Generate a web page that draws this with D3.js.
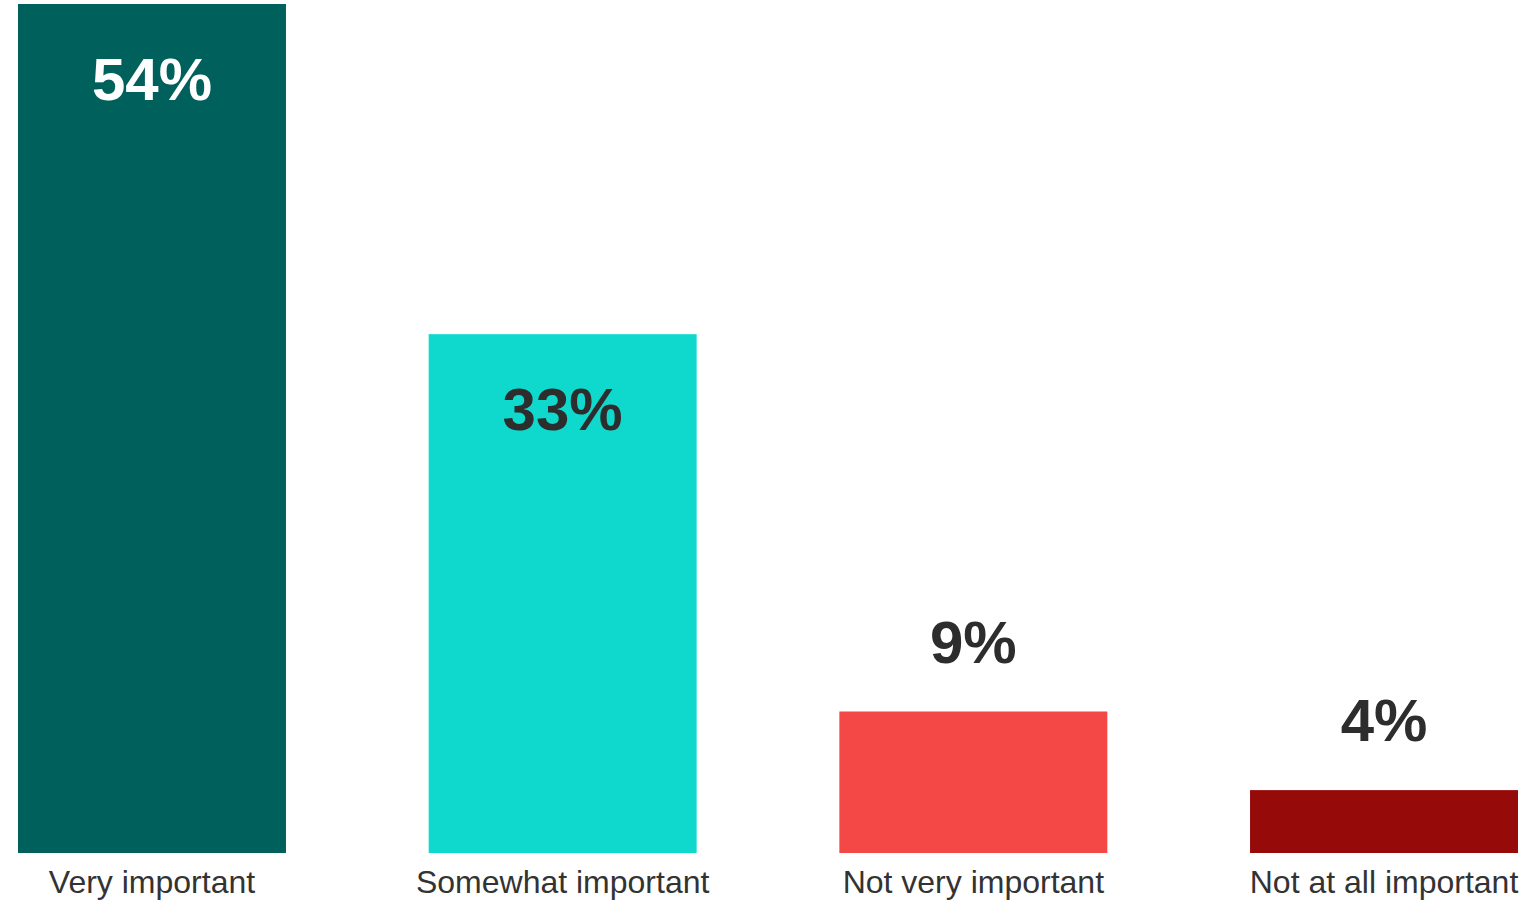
<!DOCTYPE html>
<html><head><meta charset="utf-8">
<script src="https://cdn.jsdelivr.net/npm/d3@7"></script>
<style>html,body{margin:0;padding:0;background:#fff;}svg{display:block;}</style>
</head><body>
<svg id="chart" width="1530" height="900"></svg>
<script>
const categories = ["Very important", "Somewhat important", "Not very important", "Not at all important"];
const values = [54, 33, 9, 4];
const colors = ["#00605c", "#0fd8cc", "#f44846", "#960a0a"];
const labelColors = ["#ffffff", "#2d2d2d", "#2d2d2d", "#2d2d2d"];

const svg = d3.select("#chart");
const x = d3.scaleBand().domain(categories).range([18, 1518]).paddingInner(0.3475).paddingOuter(0);
const y = d3.scaleLinear().domain([0, 54]).range([853, 4]);

svg.selectAll("rect.bar").data(values).join("rect")
  .attr("class", "bar")
  .attr("x", (d, i) => x(categories[i]))
  .attr("y", d => y(d))
  .attr("width", x.bandwidth())
  .attr("height", d => y(0) - y(d))
  .attr("fill", (d, i) => colors[i]);

svg.selectAll("text.val").data(values).join("text")
  .attr("class", "val")
  .attr("x", (d, i) => x(categories[i]) + x.bandwidth() / 2)
  .attr("y", d => d >= 20 ? y(d) + 96 : y(d) - 49)
  .attr("text-anchor", "middle")
  .attr("font-family", "Liberation Sans, Arial, sans-serif")
  .attr("font-weight", "bold")
  .attr("font-size", 60)
  .attr("fill", (d, i) => labelColors[i])
  .text(d => d + "%");

const xAxis = d3.axisBottom(x).tickSize(0).tickPadding(0);
const gx = svg.append("g").attr("transform", "translate(0,853)").call(xAxis);
gx.select(".domain").remove();
gx.selectAll("text")
  .attr("dy", null)
  .attr("y", 40)
  .attr("font-family", "Liberation Sans, Arial, sans-serif")
  .attr("font-size", 32)
  .attr("fill", "#333333");
</script>
</body></html>
